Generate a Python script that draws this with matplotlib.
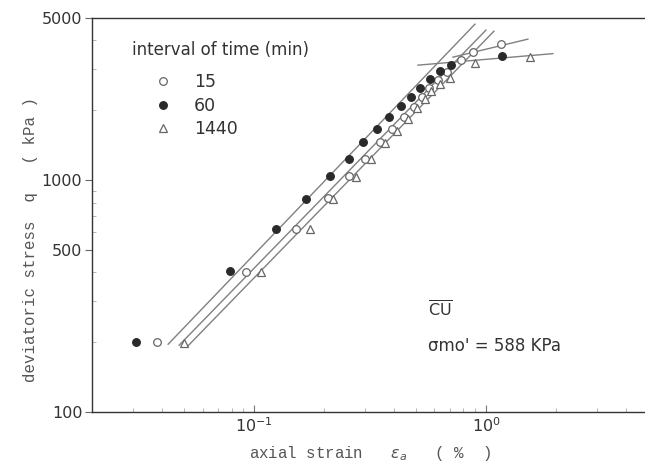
import matplotlib
matplotlib.use("Agg")
import matplotlib.pyplot as plt
from matplotlib.ticker import FixedLocator, NullFormatter, LogLocator

# ---- data ----
strain_15 = [0.0382, 0.0924, 0.1517, 0.2084, 0.2568, 0.3009, 0.3492, 0.3934, 0.4431,
             0.4894, 0.5297, 0.5679, 0.6210, 0.6789, 0.7802, 0.879, 1.161]
stress_15 = [200, 401, 615, 836, 1040, 1232, 1458, 1659, 1869,
             2064, 2279, 2492, 2698, 2921, 3290, 3562, 3857]

strain_60 = [0.0310, 0.0788, 0.1244, 0.1675, 0.2126, 0.2568, 0.2950, 0.3390, 0.3818,
             0.4300, 0.4750, 0.5193, 0.5736, 0.6335, 0.7063, 1.172]
stress_60 = [200, 405, 615, 828, 1040, 1232, 1458, 1659, 1869,
             2084, 2279, 2492, 2725, 2950, 3131, 3424]

strain_1440 = [0.0499, 0.1072, 0.1743, 0.2191, 0.2753, 0.3193, 0.3670, 0.4134, 0.4611,
               0.5041, 0.5458, 0.5793, 0.6335, 0.6994, 0.8966, 1.548]
stress_1440 = [198, 401, 615, 828, 1030, 1232, 1444, 1626, 1832,
               2043, 2234, 2418, 2593, 2753, 3194, 3390]

# fitted straight lines (end points)
fit_60_x = [0.0426, 0.8966]
fit_60_y = [196, 4703]
fit_15_x = [0.0475, 1.0]
fit_15_y = [194, 4432]
fit_1440_x = [0.0514, 1.083]
fit_1440_y = [191, 4387]
yield_upper_x = [0.7207, 1.517]
yield_upper_y = [3390, 4053]
yield_lower_x = [0.5092, 1.945]
yield_lower_y = [3131, 3510]

legend_labels = ["15", "60", "1440"]
ytick_vals = [100, 500, 1000, 5000]
ytick_labels = ["100", "500", "1000", "5000"]
xtick_vals = [0.1, 1.0]
xtick_labels = [r"$10^{-1}$", r"$10^{0}$"]

# ---- figure ----
W, H = 645, 465
fig = plt.figure(figsize=(W / 100, H / 100), dpi=100)
fig.patch.set_facecolor("white")
ax = fig.add_axes([92 / W, 53 / H, 556 / W, 394 / H])
ax.set_xscale("log")
ax.set_yscale("log")
ax.set_xlim(0.02, 5)
ax.set_ylim(100, 5000)

line_col = "#808080"
dark = "#333333"
for xs, ys in [(fit_60_x, fit_60_y), (fit_15_x, fit_15_y), (fit_1440_x, fit_1440_y),
               (yield_upper_x, yield_upper_y), (yield_lower_x, yield_lower_y)]:
    ax.plot(xs, ys, color=line_col, lw=1.0, zorder=2)

h15, = ax.plot(strain_15, stress_15, ls="none", marker="o", ms=5.5, mfc="white",
               mec="#666666", mew=0.9, zorder=3)
h60, = ax.plot(strain_60, stress_60, ls="none", marker="o", ms=5.5, mfc="#2a2a2a",
               mec="#2a2a2a", mew=0.9, zorder=3)
h1440, = ax.plot(strain_1440, stress_1440, ls="none", marker="^", ms=5.5, mfc="white",
                 mec="#666666", mew=0.9, zorder=3)

# spines
for s in ["left", "bottom", "top"]:
    ax.spines[s].set_color(dark)
    ax.spines[s].set_linewidth(1.0)
ax.spines["right"].set_visible(False)

# ticks
ax.yaxis.set_major_locator(FixedLocator(ytick_vals))
ax.yaxis.set_ticklabels(ytick_labels)
ax.yaxis.set_minor_locator(LogLocator(base=10, subs=range(2, 10)))
ax.yaxis.set_minor_formatter(NullFormatter())
ax.xaxis.set_major_locator(FixedLocator(xtick_vals))
ax.xaxis.set_ticklabels(xtick_labels)
ax.xaxis.set_minor_locator(LogLocator(base=10, subs=range(2, 10)))
ax.xaxis.set_minor_formatter(NullFormatter())
ax.tick_params(axis="y", which="major", direction="out", length=5, width=0.8,
               color="#666666", labelsize=11.5, labelcolor=dark, pad=2)
ax.tick_params(axis="y", which="minor", direction="in", length=3, width=0.6,
               color="#aaaaaa")
ax.tick_params(axis="x", which="major", direction="in", length=5, width=0.8,
               color="#777777", labelsize=11.5, labelcolor=dark, pad=3)
ax.tick_params(axis="x", which="minor", direction="in", length=3, width=0.6,
               color="#aaaaaa")
ax.tick_params(top=False, right=False, which="both")
for lab in ax.get_yticklabels() + ax.get_xticklabels():
    lab.set_family("DejaVu Sans")

# axis labels
ax.set_ylabel("deviatoric stress  q   ( kPa )", family="Liberation Mono",
              fontsize=11.3, color="#555555")
ax.yaxis.set_label_coords(-0.097, 0.437)
ax.set_xlabel(r"axial strain   $\varepsilon_a$   ( %  )", family="Liberation Mono",
              fontsize=11.3, color="#555555")
ax.xaxis.set_label_coords((370 - 92) / 556, (412 - 444) / 394)

# legend
leg = ax.legend([h15, h60, h1440], legend_labels, title="interval of time (min)",
                loc="upper left", bbox_to_anchor=(132 / W, 1 - 41 / H),
                bbox_transform=fig.transFigure, frameon=False, fontsize=12.5,
                title_fontsize=12, handlelength=3.55, handletextpad=0.0,
                labelspacing=0.33, borderpad=0, borderaxespad=0, alignment="left")
leg._legend_box.sep = 10
for t in leg.get_texts():
    t.set_color(dark)
leg.get_title().set_color(dark)

# annotations
ax.text((428 - 92) / 556, (412 - 310) / 394, r"$\overline{\mathrm{CU}}$",
        transform=ax.transAxes, fontsize=11.5, color=dark, va="center", ha="left")
ax.text((428 - 92) / 556, (412 - 346) / 394, "σmo' = 588 KPa",
        transform=ax.transAxes, fontsize=12, color=dark, va="center", ha="left")

fig.savefig("out.png", dpi=100, facecolor="white")
